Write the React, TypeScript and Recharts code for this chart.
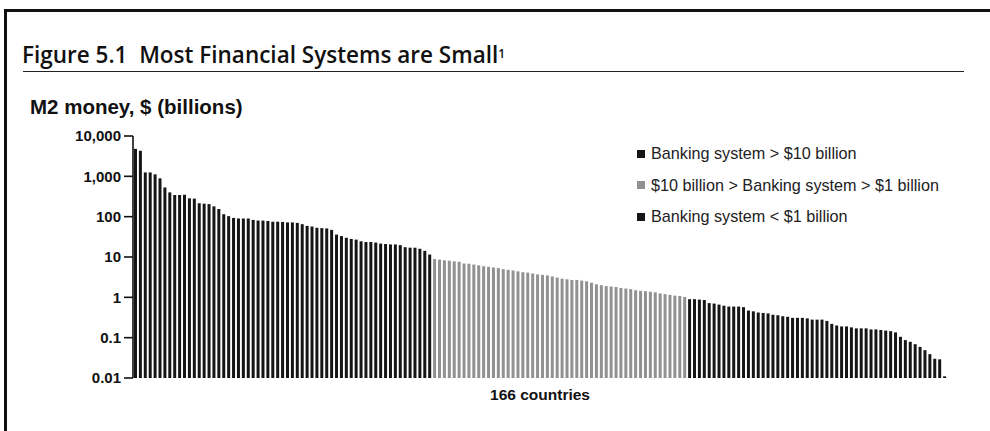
import React from 'react';
import { BarChart, Bar, XAxis, YAxis, Cell } from 'recharts';

// Countries with banking system > $10 billion (M2, $ billions)
const largeSystems: number[] = [
  4800, 4300, 1250, 1250, 1120, 890, 530, 400, 345, 345,
  350, 285, 280, 215, 210, 205, 180, 155, 115, 103,
  93, 90, 90, 90, 83, 80, 80, 78, 75, 75,
  74, 72, 72, 70, 65, 59, 57, 53, 52, 51,
  47, 36, 33, 30, 28, 27, 24.5, 23.5, 23.5, 22.8,
  21.5, 21, 20.5, 20.5, 19.7, 17.5, 17, 17, 16, 14.2,
  11.5,
];

// $10 billion > banking system > $1 billion
const mediumSystems: number[] = [
  8.9, 8.6, 8.3, 8.1, 7.8, 7.6, 6.9, 6.8, 6.5, 6.2,
  5.9, 5.7, 5.5, 5.3, 5.0, 4.8, 4.6, 4.4, 4.2, 4.1,
  3.9, 3.7, 3.6, 3.5, 3.3, 3.1, 2.9, 2.8, 2.7, 2.7,
  2.6, 2.5, 2.3, 2.1, 2.0, 1.9, 1.85, 1.8, 1.7, 1.65,
  1.6, 1.5, 1.45, 1.42, 1.38, 1.33, 1.25, 1.2, 1.15, 1.1,
  1.08, 1.02,
];

// Banking system < $1 billion
const smallSystems: number[] = [
  0.9, 0.9, 0.88, 0.86, 0.72, 0.7, 0.66, 0.62, 0.59, 0.59,
  0.59, 0.57, 0.47, 0.45, 0.42, 0.41, 0.4, 0.37, 0.36, 0.34,
  0.33, 0.31, 0.31, 0.31, 0.3, 0.28, 0.28, 0.28, 0.26, 0.22,
  0.2, 0.19, 0.19, 0.18, 0.17, 0.17, 0.17, 0.16, 0.16, 0.155,
  0.15, 0.145, 0.135, 0.105, 0.087, 0.079, 0.069, 0.059, 0.049, 0.039,
  0.03, 0.029, 0.011,
];

const yTicks: number[] = [0.01, 0.1, 1, 10, 100, 1000, 10000];
const yTickLabels: string[] = ['0.01', '0.1', '1', '10', '100', '1,000', '10,000'];

const legendLabels: string[] = [
  'Banking system > $10 billion',
  '$10 billion > Banking system > $1 billion',
  'Banking system < $1 billion',
];

const title = 'Figure 5.1  Most Financial Systems are Small';
const yAxisTitle = 'M2 money, $ (billions)';
const xAxisTitle = '166 countries';

const DARK = '#151515';
const LIGHT = '#919191';
const groupColors = [DARK, LIGHT, DARK];

const data = [
  ...largeSystems.map((v) => ({ value: v, group: 0 })),
  ...mediumSystems.map((v) => ({ value: v, group: 1 })),
  ...smallSystems.map((v) => ({ value: v, group: 2 })),
].map((d, i) => ({ ...d, idx: i + 1 }));

const formatTick = (v: number) => {
  const i = yTicks.findIndex((t) => Math.abs(t - v) / t < 1e-6);
  return i >= 0 ? yTickLabels[i] : String(v);
};

export default function App() {
  return (
    <div
      style={{
        position: 'absolute',
        left: 0,
        top: 0,
        width: 990,
        height: 431,
        overflow: 'hidden',
        background: '#fff',
        fontFamily: 'Liberation Sans, Arial, sans-serif',
        color: '#111',
      }}
    >
      {/* frame */}
      <div
        style={{
          position: 'absolute',
          left: 4,
          top: 9,
          width: 1100,
          height: 600,
          borderTop: '3px solid #111',
          borderLeft: '3px solid #111',
        }}
      />
      {/* title */}
      <div
        style={{
          position: 'absolute',
          left: 22,
          top: 42,
          fontFamily: 'Open Sans, sans-serif',
          fontWeight: 600,
          fontSize: 22.5,
          lineHeight: '26px',
          whiteSpace: 'pre',
        }}
      >
        {title}
        <sup style={{ fontSize: 12, verticalAlign: 'top', position: 'relative', top: -1 }}>1</sup>
      </div>
      <div
        style={{
          position: 'absolute',
          left: 23,
          top: 71,
          width: 941,
          height: 0,
          borderTop: '1.5px solid #222',
        }}
      />
      {/* y axis title */}
      <div
        style={{
          position: 'absolute',
          left: 30,
          top: 96,
          fontWeight: 700,
          fontSize: 20.5,
          lineHeight: '22px',
          whiteSpace: 'nowrap',
        }}
      >
        {yAxisTitle}
      </div>

      <div style={{ position: 'absolute', left: 0, top: 0 }}>
        <BarChart
          width={990}
          height={431}
          data={data}
          margin={{ top: 136, right: 43, bottom: 53, left: 0 }}
          barCategoryGap="20%"
        >
          <XAxis dataKey="idx" hide />
          <YAxis
            scale="log"
            domain={[0.01, 10000]}
            ticks={yTicks}
            allowDataOverflow
            width={133}
            tickFormatter={formatTick}
            tick={{ fill: '#111', fontSize: 15, fontWeight: 700, fontFamily: 'Liberation Sans, Arial, sans-serif' }}
            tickSize={9}
            tickMargin={3}
            axisLine={{ stroke: '#111', strokeWidth: 1.6 }}
            tickLine={{ stroke: '#111', strokeWidth: 1.6 }}
            interval={0}
          />
          <Bar dataKey="value" isAnimationActive={false}>
            {data.map((d, i) => (
              <Cell key={i} fill={groupColors[d.group]} />
            ))}
          </Bar>
        </BarChart>
      </div>

      {/* legend */}
      <div
        style={{
          position: 'absolute',
          left: 637,
          top: 144,
          fontSize: 16.2,
          lineHeight: '19px',
          color: '#222',
        }}
      >
        {legendLabels.map((label, i) => (
          <div
            key={i}
            style={{ display: 'flex', alignItems: 'center', height: 19, marginBottom: i < 2 ? 12.5 : 0, whiteSpace: 'nowrap' }}
          >
            <span
              style={{
                display: 'inline-block',
                width: 8,
                height: 8,
                background: groupColors[i],
                marginRight: 6,
              }}
            />
            {label}
          </div>
        ))}
      </div>

      {/* x axis title */}
      <div
        style={{
          position: 'absolute',
          left: 480,
          width: 120,
          top: 386,
          textAlign: 'center',
          fontWeight: 700,
          fontSize: 15.5,
          lineHeight: '18px',
          whiteSpace: 'nowrap',
        }}
      >
        {xAxisTitle}
      </div>
    </div>
  );
}
